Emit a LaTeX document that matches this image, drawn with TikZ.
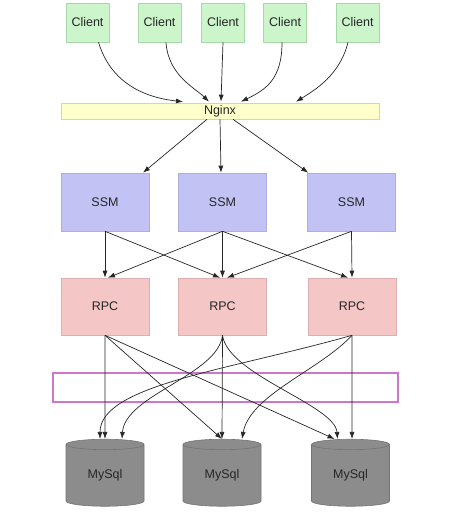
\documentclass[tikz,border=0pt]{standalone}
\usepackage{fontspec}
\setmainfont{Liberation Sans}
\usetikzlibrary{shapes.geometric,arrows.meta}

\definecolor{clientfill}{HTML}{CCF5CC}
\definecolor{clientline}{HTML}{A8D8A8}
\definecolor{nginxfill}{HTML}{FFFFCC}
\definecolor{nginxline}{HTML}{D6D6A6}
\definecolor{ssmfill}{HTML}{C2C2F5}
\definecolor{ssmline}{HTML}{AEAEDC}
\definecolor{rpcfill}{HTML}{F5C6C6}
\definecolor{rpcline}{HTML}{DCB0B0}
\definecolor{dbfill}{HTML}{8C8C8C}
\definecolor{dbline}{HTML}{747474}
\definecolor{barline}{HTML}{CC77CC}

\tikzset{
  box/.style={rectangle, inner sep=0pt, line width=0.6pt, text=black!85,
    font=\fontsize{12.5}{15}\selectfont},
  clientbox/.style={box, fill=clientfill, draw=clientline, minimum width=43pt, minimum height=39pt},
  nginxbox/.style={box, fill=nginxfill, draw=nginxline, minimum width=318pt, minimum height=16pt},
  ssmbox/.style={box, fill=ssmfill, draw=ssmline, minimum width=88pt, minimum height=58pt},
  rpcbox/.style={box, fill=rpcfill, draw=rpcline, minimum width=88pt, minimum height=57pt},
  dbbox/.style={box, cylinder, shape border rotate=90, aspect=0.3, fill=dbfill, draw=dbline,
    minimum width=78pt, minimum height=67pt},
  link/.style={->, line width=0.7pt, black!85}
}

\begin{document}
\begin{tikzpicture}[x=1pt, y=-1pt, >={Latex[length=7pt,width=5pt]}]
	\useasboundingbox (0,0) rectangle (461,516);
	
	% clients and nginx
	\node[clientbox] (c1) at (87.5,22.5) {Client};
	\node[clientbox] (c2) at (159.5,22.5) {Client};
	\node[clientbox] (c3) at (223,22.5) {Client};
	\node[clientbox] (c4) at (285,22.5) {Client};
	\node[clientbox] (c5) at (357.5,22.5) {Client};
	\node[nginxbox] (nginx) at (220,111) {Nginx};
	
	% ssm and rpc
	\node[ssmbox] (ssm1) at (105,202) {SSM};
	\node[ssmbox] (ssm2) at (222.5,202) {SSM};
	\node[ssmbox] (ssm3) at (351.5,202) {SSM};
	\node[rpcbox] (rpc1) at (105,306.5) {RPC};
	\node[rpcbox] (rpc2) at (222.5,306.5) {RPC};
	\node[rpcbox] (rpc3) at (352,306.5) {RPC};
	
	\node[rectangle, draw=barline, line width=1.8pt, minimum width=345pt, minimum height=29pt] (bar) at (225.5,387.5) {};
	
	% databases
	\node[dbbox] (db1) at (105,475.5) {MySql};
	\node[dbbox] (db2) at (222,475.5) {MySql};
	\node[dbbox] (db3) at (350.5,475.5) {MySql};
	
	\draw[link] ([xshift=11pt]c1.south) .. controls (110,80) and (140,97) .. ([xshift=-37pt,yshift=1pt]nginx.north);
	\draw[link] ([xshift=6.5pt]c2.south) .. controls (168,75) and (195,88) .. ([xshift=-11pt,yshift=1pt]nginx.north);
	\draw[link] (c3.south) -- ([xshift=1pt,yshift=1pt]nginx.north);
	\draw[link] ([xshift=-3pt]c4.south) .. controls (282,80) and (265,90) .. ([xshift=21pt,yshift=1pt]nginx.north);
	\draw[link] ([xshift=-9.5pt]c5.south) .. controls (340,75) and (315,90) .. ([xshift=76pt,yshift=1pt]nginx.north);
	
	\draw[link] ([xshift=-13pt]nginx.south) -- ([xshift=38pt]ssm1.north);
	\draw[link] (nginx.south) -- ([xshift=-1.5pt]ssm2.north);
	\draw[link] ([xshift=13pt]nginx.south) -- ([xshift=1pt]ssm3.north west);
	
	\draw[link] (ssm1.south) -- (rpc1.north);
	\draw[link] (ssm1.south) -- ([xshift=-2.5pt]rpc2.north);
	\draw[link] (ssm2.south) -- ([xshift=3pt]rpc1.north);
	\draw[link] (ssm2.south) -- (rpc2.north);
	\draw[link] (ssm2.south) -- ([xshift=-4pt]rpc3.north);
	\draw[link] (ssm3.south) -- ([xshift=4.5pt]rpc2.north);
	\draw[link] (ssm3.south) -- (rpc3.north);
	
	\draw[link] (rpc1.south) -- (db1.north);
	\draw[link] (rpc1.south) -- (db2.north);
	\draw[link] (rpc1.south) -- ([xshift=-16pt]db3.north);
	\draw[link] (rpc2.south) .. controls (218,375) and (125,395) .. ([xshift=17pt]db1.north);
	\draw[link] (rpc2.south) -- (db2.north);
	\draw[link] (rpc2.south) .. controls (228,375) and (335,405) .. ([xshift=-13pt]db3.north);
	\draw[link] (rpc3.south) .. controls (230,370) and (100,385) .. ([xshift=-5pt]db1.north);
	\draw[link] (rpc3.south) .. controls (320,370) and (250,395) .. ([xshift=20pt]db2.north);
	\draw[link] (rpc3.south) -- ([xshift=1.5pt]db3.north);
\end{tikzpicture}
\end{document}
